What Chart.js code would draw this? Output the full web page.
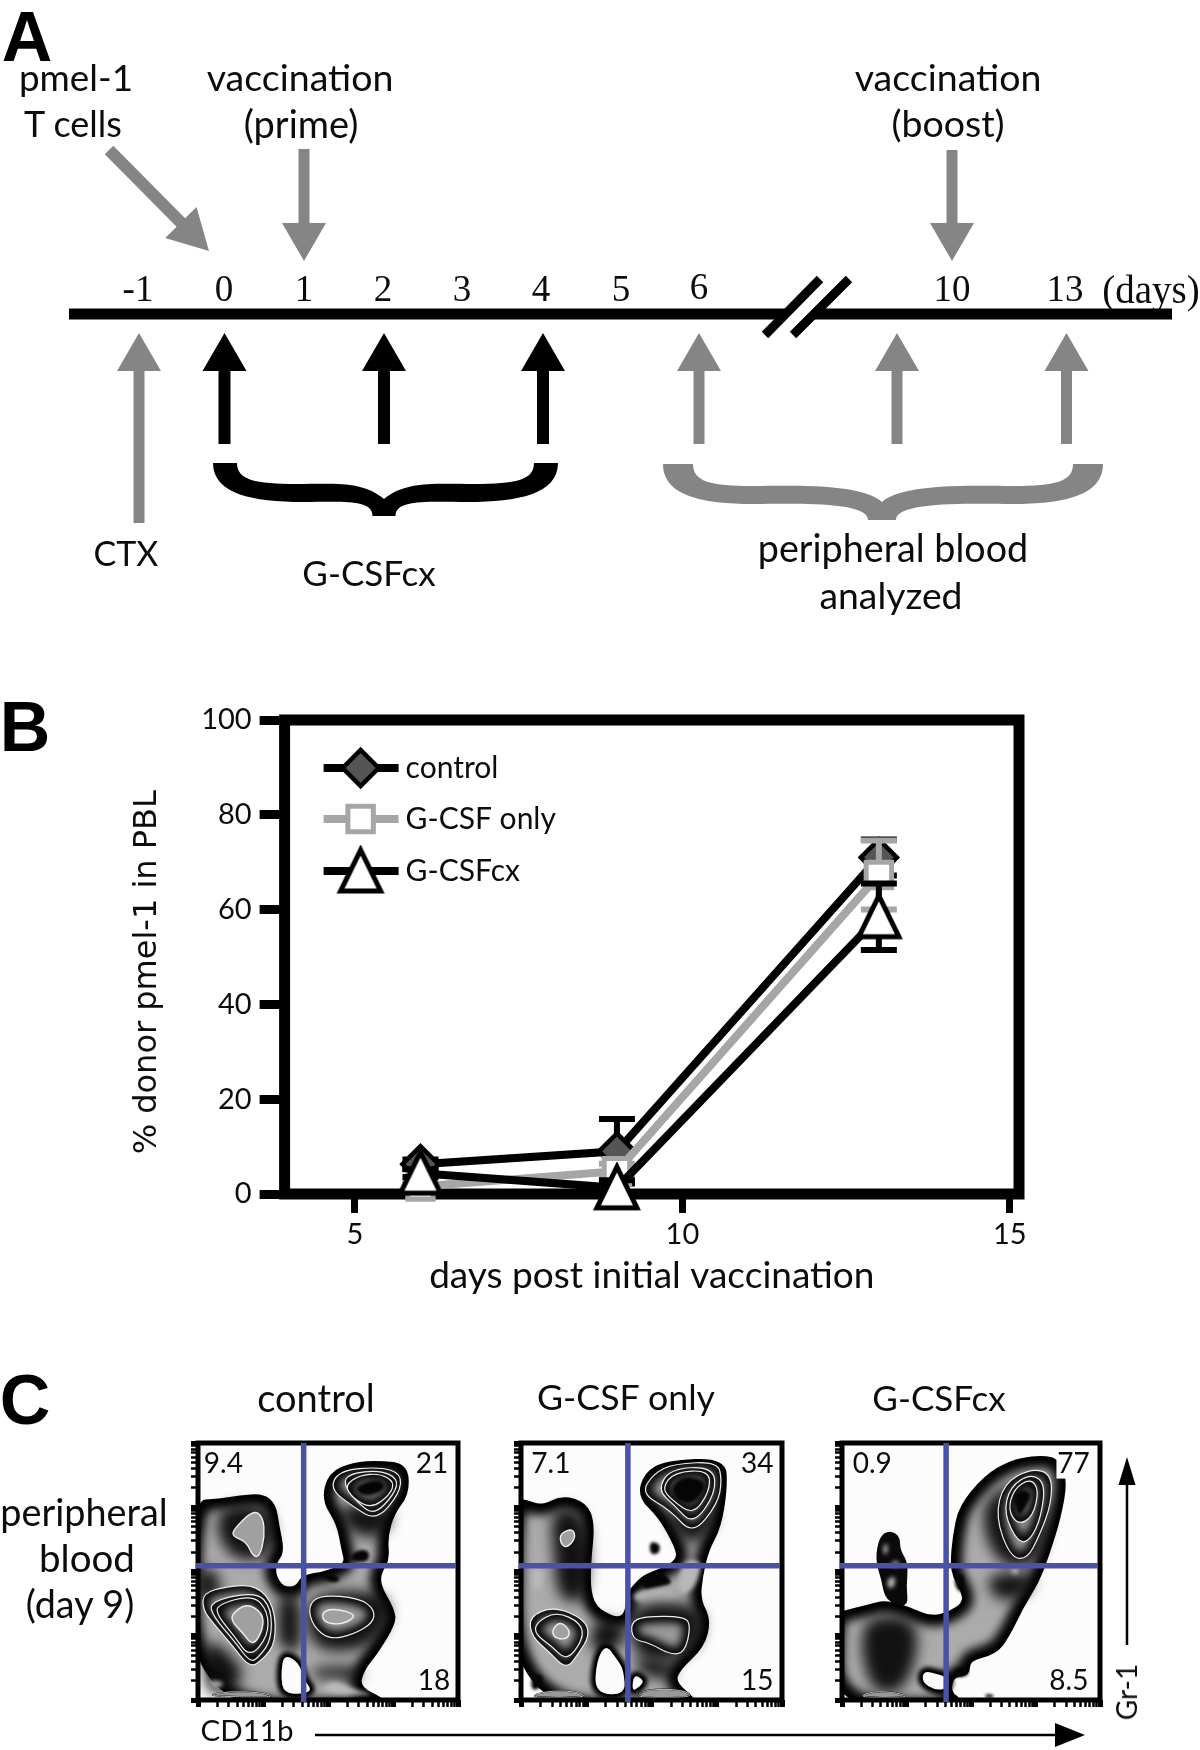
<!DOCTYPE html>
<html>
<head>
<meta charset="utf-8">
<title>pmel-1 G-CSFcx figure</title>
<script src="https://cdn.jsdelivr.net/npm/chart.js@4"></script>
<style>
  html, body { margin: 0; padding: 0; background: #fff; }
  #page { position: relative; width: 1200px; height: 1750px; overflow: hidden; }
  canvas { position: absolute; }
  .lbl { position: absolute; transform: translate(-50%, -50%); white-space: nowrap; color: #0c0c0c; font-family: Lato, sans-serif; font-size: 35px; line-height: 1; }
  .panel { font-family: "Liberation Sans", sans-serif; font-weight: bold; font-size: 70px; color: #000; }
  .rot { transform: translate(-50%, -50%) rotate(-90deg); }
</style>
</head>
<body>
<div id="page">
  <canvas id="figure" style="left:0;top:0" width="1200" height="1750"></canvas>
  <canvas id="pblChart" style="left:100px;top:690px" width="950" height="620"></canvas>
  <canvas id="flow1" style="left:168px;top:1428px" width="305" height="302"></canvas>
  <canvas id="flow2" style="left:491px;top:1428px" width="306" height="302"></canvas>
  <canvas id="flow3" style="left:812px;top:1428px" width="303" height="302"></canvas>
</div>
<script>
// Panel B values
const days = [6, 9, 13];
const controlValues = [6.3, 9, 71];
const gcsfValues = [1.6, 4.8, 67.3];
const gcsfcxValues = [4.4, 1.3, 58.5];
const controlErr = [1, 6.8, 3.8];
const gcsfErr = [1, 1.6, 7.3];
const gcsfcxErr = [0.8, 1.6, 7];
const yTicks = [0, 20, 40, 60, 80, 100];
const xTicks = [5, 10, 15];

// Panel A timeline, in page units
const dayLabels = ['-1', '0', '1', '2', '3', '4', '5', '6', '10', '13'];
const dayX = [138, 224, 304, 383, 462, 541, 621, 699, 952, 1065];
const blackArrowX = [224.5, 384, 543];
const grayArrowX = [699, 897, 1066.5];

// Panel C gate positions and quadrant numbers
const flowTitles = ['control', 'G-CSF only', 'G-CSFcx'];
const flowWidths = [780, 630, 622];
const gateX = [317, 258, 251];
const gateY = 404;
const flow1Numbers = ['9.4', '21', '18'];
const flow2Numbers = ['7.1', '34', '15'];
const flow3Numbers = ['0.9', '77', '8.5'];
const flow1NumberX = [76, 702, 708];
const flow2NumberX = [72, 570, 570];
const flow3NumberX = [73, 558, 547];
const minorOffsets = [58, 92, 116, 135, 150, 163, 174, 184];

// Panel C contours (CD11b channel, Gr-1 channel), control
const f1Mass = [[-20,597],[65,602],[125,612],[195,617],[230,587],[240,522],[255,447],[230,412],[230,372],[255,337],[295,337],[315,372],[375,382],[405,392],[445,412],[435,452],[420,532],[375,602],[395,682],[465,712],[545,717],[625,707],[630,622],[585,562],[565,492],[570,422],[545,382],[545,342],[585,272],[590,232],[535,142],[495,92],[480,37],[560,0],[560,-25],[-20,-25]];
const f1Hole = [[255,142],[305,117],[320,62],[345,32],[320,14],[255,18],[245,72]];
const f1SoftUL = [[65,582],[205,592],[230,502],[205,422],[105,422],[55,502]];
const f1PeakUL = [[105,512],[165,572],[195,552],[200,492],[185,432],[165,432],[145,477],[105,492]];
const f1SoftBL = [[20,192],[95,142],[145,72],[85,22],[20,22]];
const f1LightBL = [[25,62],[85,52],[55,32]];
const f1SoftLeft = [[0,400],[60,390],[70,300],[0,300]];
const f1RingLL1 = [[15,322],[85,342],[175,347],[230,282],[233,172],[195,122],[155,97],[105,162],[45,232],[15,272]];
const f1RingLL2 = [[35,297],[175,327],[220,277],[220,182],[185,132],[157,112],[110,177],[45,252]];
const f1RingLL3 = [[55,287],[165,317],[210,267],[210,192],[155,127],[110,192],[60,252]];
const f1PeakLL = [[100,257],[145,292],[195,262],[195,212],[165,162],[135,202],[105,232]];
const f1Bottom = [[15,12],[95,27],[195,22],[235,7]];
const f1Bridge = [[240,322],[305,322],[310,142],[265,152],[240,172]];
const f1SoftLR = [[320,322],[545,332],[585,262],[525,162],[405,142],[335,172]];
const f1RingLR = [[330,282],[365,317],[485,307],[530,272],[525,232],[465,197],[395,182],[345,222]];
const f1PeakLR = [[370,262],[405,277],[480,257],[435,227],[380,232]];
const f1BandLR = [[330,97],[495,102],[480,52],[405,72],[355,62]];
const f1LobeLR = [[355,22],[405,62],[465,32],[545,12]];
const f1Spot1 = [[450,422],[475,452],[515,452],[510,412]];
const f1Spot2 = [[365,372],[405,382],[430,362],[405,352]];
const f1SoftUR = [[405,592],[595,582],[555,492],[465,492]];
const f1RingUR1 = [[395,637],[425,692],[545,702],[610,682],[605,622],[535,540],[465,582]];
const f1RingUR2 = [[435,652],[455,682],[545,692],[600,667],[590,622],[530,557],[480,592]];
const f1RingUR3 = [[440,647],[485,677],[545,682],[590,657],[575,617],[520,577],[465,607]];
const f1CoreUR = [[465,642],[535,667],[565,647],[545,622],[495,612]];

// G-CSF only
const f2Mass = [[-20,605],[15,597],[50,582],[100,612],[155,592],[175,532],[165,412],[165,322],[185,267],[250,237],[260,322],[270,337],[295,372],[340,392],[380,422],[375,462],[335,552],[285,612],[300,682],[350,717],[490,725],[495,642],[480,522],[450,452],[435,372],[430,302],[455,242],[440,162],[380,92],[370,52],[420,0],[420,-25],[-20,-25]];
const f2Hole1 = [[205,172],[235,122],[250,92],[255,12],[175,17],[180,122]];
const f2Hole2 = [[270,82],[300,62],[290,37],[265,22]];
const f2Dot = [[310,477],[335,472],[335,442],[312,437]];
const f2Patch = [[295,372],[335,392],[370,352],[335,342],[290,332]];
const f2Light1 = [[275,332],[370,332],[380,292],[270,292]];
const f2Light2 = [[390,422],[440,422],[420,332],[375,312]];
const f2SoftUL = [[70,582],[155,572],[165,402],[150,292],[90,302],[80,422]];
const f2PeakUL = [[95,502],[125,517],[132,487],[110,457],[95,472]];
const f2LightUL = [[25,392],[55,392],[50,332],[28,332]];
const f2RingLL1 = [[20,252],[80,282],[155,242],[165,192],[140,142],[110,92],[70,142],[25,192]];
const f2RingLL2 = [[35,232],[85,267],[145,232],[150,182],[110,117],[75,162],[35,197]];
const f2PeakLL = [[75,212],[95,237],[120,207],[110,182],[80,187]];
const f2Bottom = [[15,7],[60,27],[130,27],[165,7]];
const f2SpotBL = [[25,77],[55,77],[50,37],[25,27]];
const f2SoftLR = [[260,292],[420,292],[445,232],[420,152],[350,112],[270,132]];
const f2RingLR = [[265,232],[295,252],[395,252],[410,222],[395,142],[360,137],[310,172],[270,182]];
const f2Bridge = [[175,252],[250,232],[250,162],[165,132]];
const f2LobeLR = [[270,7],[300,32],[390,32],[420,7]];
const f2BandLR = [[265,132],[380,112],[360,62],[295,72]];
const f2SoftUR = [[335,582],[480,592],[450,492],[400,462]];
const f2RingUR1 = [[290,622],[320,682],[370,712],[475,717],[485,662],[475,592],[415,497],[360,572]];
const f2RingUR2 = [[330,632],[360,697],[465,702],[470,622],[415,527],[370,587]];
const f2RingUR3 = [[340,637],[370,687],[455,692],[455,627],[415,557],[365,602]];
const f2CoreUR = [[360,642],[395,677],[445,662],[440,622],[410,587],[375,602]];

// G-CSFcx
const f3Mass = [[-20,255],[10,267],[60,282],[105,297],[160,277],[215,247],[260,262],[295,292],[290,332],[270,372],[265,412],[270,492],[285,582],[345,672],[405,717],[465,732],[520,727],[540,662],[525,552],[495,432],[470,352],[435,282],[400,192],[370,142],[305,122],[305,77],[265,72],[260,22],[285,0],[285,-25],[-20,-25]];
const f3Hole = [[195,92],[235,80],[262,66],[255,32],[225,26],[190,52]];
const f3Stalk = [[90,492],[115,512],[140,492],[140,452],[160,412],[155,342],[160,277],[105,297],[95,362],[80,422]];
const f3Spot1 = [[100,467],[110,472],[110,442],[100,437]];
const f3Spot2 = [[110,367],[130,372],[125,337],[110,337]];
const f3Spot3 = [[118,415],[140,420],[132,400],[120,402]];
const f3Patch = [[270,372],[295,382],[295,322],[275,332]];
const f3Knob = [[270,97],[305,97],[305,72],[270,67]];
const f3Bump = [[345,17],[365,17],[365,7],[345,7]];
const f3SoftLow = [[55,252],[175,252],[185,142],[145,22],[75,22],[45,142]];
const f3SoftArm1 = [[345,382],[475,382],[435,302],[365,302]];
const f3SoftArm2 = [[325,622],[505,672],[485,402],[365,402]];
const f3LightArm = [[400,397],[430,397],[420,372]];
const f3Bottom = [[35,7],[75,27],[135,22],[165,7]];
const f3RingUR1 = [[370,552],[390,652],[455,697],[505,682],[505,592],[475,492],[445,422],[405,432]];
const f3RingUR2 = [[390,562],[405,642],[455,682],[490,652],[480,552],[455,482],[425,472]];
const f3RingUR3 = [[400,572],[415,637],[455,667],[475,632],[460,552],[425,527]];
const f3CoreUR = [[410,612],[435,637],[460,622],[440,572],[425,552]];

const layers1 = [['mass',f1Mass],['soft',f1SoftUL],['peak',f1PeakUL],['soft',f1SoftBL],['light',f1LightBL],['soft',f1SoftLeft],['soft',f1Bridge],['ring',f1RingLL1],['ring',f1RingLL2],['ring',f1RingLL3],['peak',f1PeakLL],['open',f1Bottom],['soft',f1SoftLR],['ring',f1RingLR],['peak',f1PeakLR],['soft',f1BandLR],['light',f1LobeLR],['hole',f1Hole],['core',f1Spot1],['core',f1Spot2],['soft',f1SoftUR],['ring',f1RingUR1],['ring',f1RingUR2],['ring',f1RingUR3],['core',f1CoreUR]];
const layers2 = [['mass',f2Mass],['soft',f2SoftUL],['peak',f2PeakUL],['light',f2LightUL],['soft',f2Bridge],['ring',f2RingLL1],['ring',f2RingLL2],['peak',f2PeakLL],['open',f2Bottom],['core',f2SpotBL],['light',f2Light1],['light',f2Light2],['soft',f2SoftLR],['ring',f2RingLR],['soft',f2BandLR],['open',f2LobeLR],['hole',f2Hole1],['hole',f2Hole2],['core',f2Dot],['core',f2Patch],['soft',f2SoftUR],['ring',f2RingUR1],['ring',f2RingUR2],['ring',f2RingUR3],['core',f2CoreUR]];
const layers3 = [['mass',f3Mass],['soft',f3SoftLow],['soft',f3SoftArm1],['soft',f3SoftArm2],['light',f3LightArm],['open',f3Bottom],['hole',f3Hole],['stalk',f3Stalk],['light',f3Spot1],['light',f3Spot2],['light',f3Spot3],['core',f3Patch],['core',f3Knob],['core',f3Bump],['ring',f3RingUR1],['ring',f3RingUR2],['ring',f3RingUR3],['core',f3CoreUR]];

const GRAY = '#858585';
const BLUE = '#4a52a8';

// free text of the figure
const page = document.getElementById('page');
function addLabel(text, x, y, size, cls, family) {
    const el = document.createElement('div');
    el.className = 'lbl ' + (cls || '');
    el.textContent = text;
    el.style.left = x + 'px';
    el.style.top = y + 'px';
    if (size) el.style.fontSize = size + 'px';
    if (family) el.style.fontFamily = family;
    page.appendChild(el);
}
addLabel('A', 27, 37, 70, 'panel');
addLabel('B', 25, 727, 70, 'panel');
addLabel('C', 25, 1400, 70, 'panel');
addLabel('pmel-1', 76, 77, 36.8);
addLabel('T cells', 73, 123, 36);
addLabel('vaccination', 300, 77, 37.5);
addLabel('(prime)', 301, 123, 38);
addLabel('vaccination', 948, 77, 37.5);
addLabel('(boost)', 948, 123, 37.5);
addLabel('CTX', 126, 553, 34);
addLabel('G-CSFcx', 369, 572, 35);
addLabel('peripheral blood', 893, 548, 37.7);
addLabel('analyzed', 891, 595, 37.3);
addLabel('(days)', 1151, 289, 39, '', '"Liberation Serif", serif');
addLabel('peripheral', 84, 1512, 37.8);
addLabel('blood', 87, 1557, 38.5);
addLabel('(day 9)', 80, 1604, 37.7);
addLabel(flowTitles[0], 316, 1397, 38);
addLabel(flowTitles[1], 626, 1397, 35.7);
addLabel(flowTitles[2], 939, 1397, 35);
addLabel('CD11b', 247, 1730, 29.5);
addLabel('Gr-1', 1126, 1692, 28, 'rot');

// Panel A: timeline, arrows and braces, on a chart that spans the page
function arrow(chart, x0, y0, x1, y1, shaft, headW, headL, color) {
    const sx = chart.scales.x, sy = chart.scales.y, ctx = chart.ctx;
    const ax = sx.getPixelForValue(x0), ay = sy.getPixelForValue(y0);
    const bx = sx.getPixelForValue(x1), by = sy.getPixelForValue(y1);
    const len = Math.hypot(bx - ax, by - ay);
    const ux = (bx - ax) / len, uy = (by - ay) / len;
    const nx = -uy, ny = ux;
    const cx = bx - ux * headL, cy = by - uy * headL;
    ctx.fillStyle = color;
    ctx.beginPath();
    ctx.moveTo(ax + nx * shaft / 2, ay + ny * shaft / 2);
    ctx.lineTo(cx + nx * shaft / 2, cy + ny * shaft / 2);
    ctx.lineTo(cx + nx * headW / 2, cy + ny * headW / 2);
    ctx.lineTo(bx, by);
    ctx.lineTo(cx - nx * headW / 2, cy - ny * headW / 2);
    ctx.lineTo(cx - nx * shaft / 2, cy - ny * shaft / 2);
    ctx.lineTo(ax - nx * shaft / 2, ay - ny * shaft / 2);
    ctx.closePath();
    ctx.fill();
}

function brace(ctx, b) {
    const innerL = b.xl + b.endW, innerR = b.xr - b.endW;
    ctx.fillStyle = b.color;
    ctx.beginPath();
    ctx.moveTo(b.xl, b.top);
    ctx.lineTo(innerL, b.top);
    ctx.bezierCurveTo(innerL, b.bandTop - 4, innerL + 18, b.bandTop, innerL + 60, b.bandTop);
    ctx.bezierCurveTo(innerL + 100, b.bandTop, b.mx - 22, b.bandTop - 3, b.mx, b.cusp);
    ctx.bezierCurveTo(b.mx + 22, b.bandTop - 3, innerR - 100, b.bandTop, innerR - 60, b.bandTop);
    ctx.bezierCurveTo(innerR - 18, b.bandTop, innerR, b.bandTop - 4, innerR, b.top);
    ctx.lineTo(b.xr, b.top);
    ctx.bezierCurveTo(b.xr, b.bandBot - 8, b.xr - 40, b.bandBot, b.xr - 90, b.bandBot);
    ctx.bezierCurveTo(b.xr - 130, b.bandBot, b.mx + b.midW / 2, b.bandBot - 3, b.mx + b.midW / 2, b.midBot);
    ctx.lineTo(b.mx - b.midW / 2, b.midBot);
    ctx.bezierCurveTo(b.mx - b.midW / 2, b.bandBot - 3, b.xl + 130, b.bandBot, b.xl + 90, b.bandBot);
    ctx.bezierCurveTo(b.xl + 40, b.bandBot, b.xl, b.bandBot - 8, b.xl, b.top);
    ctx.closePath();
    ctx.fill();
}

const timelinePlugin = {
    id: 'timeline',
    afterDatasetsDraw(chart) {
        const ctx = chart.ctx;
        // double slash over the axis break
        ctx.save();
        ctx.lineCap = 'butt';
        ctx.strokeStyle = '#fff';
        ctx.lineWidth = 20;
        ctx.beginPath(); ctx.moveTo(830, 284); ctx.lineTo(783, 330); ctx.stroke();
        ctx.strokeStyle = '#000';
        ctx.lineWidth = 9;
        ctx.beginPath(); ctx.moveTo(820, 279); ctx.lineTo(765, 335); ctx.stroke();
        ctx.beginPath(); ctx.moveTo(849, 279); ctx.lineTo(793, 335); ctx.stroke();
        ctx.restore();

        arrow(chart, 109, 150, 209, 251, 12, 44, 40, GRAY);
        arrow(chart, 304, 149, 304, 261, 11, 44, 38, GRAY);
        arrow(chart, 952, 150, 952, 261, 11, 44, 38, GRAY);
        arrow(chart, 139, 523, 139, 333, 11, 44, 38, GRAY);
        blackArrowX.forEach(x => arrow(chart, x, 444, x, 333, 12, 44, 38, '#000'));
        grayArrowX.forEach(x => arrow(chart, x, 444, x, 333, 11, 44, 38, GRAY));

        brace(ctx, { color: '#000', xl: 213, xr: 558, mx: 384, endW: 24, top: 463, bandTop: 484, bandBot: 502, cusp: 499, midW: 23, midBot: 516 });
        brace(ctx, { color: GRAY, xl: 663, xr: 1103, mx: 882, endW: 30, top: 464, bandTop: 486, bandBot: 504, cusp: 502, midW: 28, midBot: 520 });

        // day numbers over the line
        ctx.fillStyle = '#0c0c0c';
        ctx.font = '37px "Liberation Serif", serif';
        ctx.textAlign = 'center';
        ctx.textBaseline = 'middle';
        dayLabels.forEach((t, i) => ctx.fillText(t, chart.scales.x.getPixelForValue(dayX[i]), chart.scales.y.getPixelForValue(t === '6' ? 289 : 291)));

        // long arrows along the flow plots
        arrow(chart, 315, 1735, 1085, 1735, 2.5, 24, 30, '#000');
        arrow(chart, 1127, 1645, 1127, 1457, 2.5, 17, 28, '#000');
    }
};

new Chart(document.getElementById('figure'), {
    type: 'line',
    data: {
        datasets: [{
            label: 'timeline',
            data: [{ x: 69, y: 314 }, { x: 1172, y: 314 }],
            borderColor: '#000',
            borderWidth: 11,
            pointRadius: 0
        }]
    },
    plugins: [timelinePlugin],
    options: {
        responsive: false,
        animation: false,
        layout: { padding: 0 },
        plugins: { legend: { display: false }, tooltip: { enabled: false } },
        scales: {
            x: { type: 'linear', min: 0, max: 1200, display: false },
            y: { type: 'linear', min: 0, max: 1750, reverse: true, display: false }
        }
    }
});

// Panel B: frame, error bars and the in-plot legend
const framePlugin = {
    id: 'frame',
    beforeDatasetsDraw(chart) {
        const a = chart.chartArea, ctx = chart.ctx;
        ctx.save();
        ctx.strokeStyle = '#000';
        ctx.lineWidth = 11;
        ctx.strokeRect(a.left, a.top, a.right - a.left, a.bottom - a.top);
        ctx.restore();
    }
};

const errorBarPlugin = {
    id: 'errorBars',
    beforeDatasetDraw(chart, args) {
        const ds = chart.data.datasets[args.index];
        const sx = chart.scales.x, sy = chart.scales.y, ctx = chart.ctx;
        ctx.save();
        ctx.strokeStyle = ds.borderColor === '#a6a6a6' ? '#a6a6a6' : '#000';
        ctx.lineWidth = 6;
        days.forEach((d, i) => {
            const x = sx.getPixelForValue(d);
            const hi = sy.getPixelForValue(ds.data[i].y + ds.errors[i]);
            const lo = sy.getPixelForValue(ds.data[i].y - ds.errors[i]);
            ctx.beginPath();
            ctx.moveTo(x - 18, hi); ctx.lineTo(x + 18, hi);
            ctx.moveTo(x, hi); ctx.lineTo(x, lo);
            ctx.moveTo(x - 18, lo); ctx.lineTo(x + 18, lo);
            ctx.stroke();
        });
        ctx.restore();
    }
};

const lineLegendPlugin = {
    id: 'lineLegend',
    afterDraw(chart) {
        const a = chart.chartArea, ctx = chart.ctx;
        const rows = [48, 99, 151];
        ctx.save();
        chart.data.datasets.forEach((ds, i) => {
            const y = a.top + rows[i];
            ctx.strokeStyle = ds.borderColor;
            ctx.lineWidth = 8;
            ctx.beginPath();
            ctx.moveTo(a.left + 39, y);
            ctx.lineTo(a.left + 114, y);
            ctx.stroke();
            ctx.fillStyle = ds.pointBackgroundColor;
            ctx.strokeStyle = ds.pointBorderColor;
            ctx.lineWidth = ds.pointBorderWidth;
            Chart.helpers.drawPoint(ctx, { pointStyle: ds.pointStyle, rotation: 0, radius: ds.pointRadius, borderWidth: ds.pointBorderWidth }, a.left + 76, y);
            ctx.fillStyle = '#0c0c0c';
            ctx.font = '30px Lato, sans-serif';
            ctx.textAlign = 'left';
            ctx.textBaseline = 'middle';
            ctx.fillText(ds.label, a.left + 121, y);
        });
        ctx.restore();
    }
};

// the figure's triangle is taller than an equilateral one
function trianglePoint() {
    const c = document.createElement('canvas');
    c.width = 52;
    c.height = 52;
    const g = c.getContext('2d');
    g.beginPath();
    g.moveTo(26, 5);
    g.lineTo(46, 46);
    g.lineTo(6, 46);
    g.closePath();
    g.fillStyle = '#fff';
    g.fill();
    g.strokeStyle = '#000';
    g.lineWidth = 5;
    g.stroke();
    return c;
}

function series(label, values, errors, line, style, radius, fill, border, bw, order) {
    return {
        label: label,
        data: days.map((d, i) => ({ x: d, y: values[i] })),
        errors: errors,
        borderColor: line,
        borderWidth: 8,
        pointStyle: style,
        pointRadius: radius,
        pointBackgroundColor: fill,
        pointBorderColor: border,
        pointBorderWidth: bw,
        clip: false,
        order: order
    };
}

new Chart(document.getElementById('pblChart'), {
    type: 'line',
    data: {
        datasets: [
            series('control', controlValues, controlErr, '#000', 'rectRot', 18, '#555', '#000', 4.5, 3),
            series('G-CSF only', gcsfValues, gcsfErr, '#a6a6a6', 'rect', 18, '#fff', '#a6a6a6', 5, 2),
            series('G-CSFcx', gcsfcxValues, gcsfcxErr, '#000', trianglePoint(), 23, '#fff', '#000', 5, 1)
        ]
    },
    plugins: [framePlugin, errorBarPlugin, lineLegendPlugin],
    options: {
        responsive: false,
        animation: false,
        layout: { padding: { top: 30, right: 31, left: 0, bottom: 8 } },
        plugins: { legend: { display: false }, tooltip: { enabled: false } },
        scales: {
            x: {
                type: 'linear',
                min: 3.925,
                max: 15.14,
                afterBuildTicks: axis => { axis.ticks = xTicks.map(v => ({ value: v })); },
                afterFit: axis => { axis.height = 108; },
                grid: { drawOnChartArea: false, drawTicks: true, tickLength: 19, tickWidth: 7, tickColor: '#000' },
                border: { display: false },
                ticks: { color: '#0c0c0c', font: { family: 'Lato', size: 29 }, padding: 4, maxRotation: 0, autoSkip: false },
                title: { display: true, text: 'days post initial vaccination', color: '#0c0c0c', font: { family: 'Lato', size: 37 }, padding: { top: 0 } }
            },
            y: {
                type: 'linear',
                min: 0,
                max: 100,
                afterBuildTicks: axis => { axis.ticks = yTicks.map(v => ({ value: v })); },
                afterFit: axis => { axis.width = 184.6; },
                grid: { drawOnChartArea: false, drawTicks: true, tickLength: 25, tickWidth: 9, tickColor: '#000' },
                border: { display: false },
                ticks: { color: '#0c0c0c', font: { family: 'Lato', size: 29 }, padding: 8, autoSkip: false },
                title: { display: true, text: '% donor pmel-1 in PBL\u00a0\u00a0\u00a0', color: '#0c0c0c', font: { family: '"DejaVu Sans"', size: 32 }, padding: { top: 28 } }
            }
        }
    }
});

// Panel C: the contour layers are line datasets, painted from their scale positions
function tracePoints(ctx, pts) {
    const n = pts.length;
    const mid = (a, b) => ({ x: (a.x + b.x) / 2, y: (a.y + b.y) / 2 });
    const start = mid(pts[n - 1], pts[0]);
    ctx.beginPath();
    ctx.moveTo(start.x, start.y);
    for (let i = 0; i < n; i++) {
        const m = mid(pts[i], pts[(i + 1) % n]);
        ctx.quadraticCurveTo(pts[i].x, pts[i].y, m.x, m.y);
    }
    ctx.closePath();
}

function paintLayer(ctx, kind, pts, a) {
    ctx.save();
    ctx.beginPath();
    ctx.rect(a.left, a.top, a.right - a.left, a.bottom - a.top);
    ctx.clip();
    ctx.lineJoin = 'round';
    tracePoints(ctx, pts);
    if (kind === 'mass' || kind === 'ring') {
        ctx.fillStyle = kind === 'mass' ? '#ababab' : '#9a9a9a';
        ctx.fill();
        ctx.save();
        ctx.clip();
        ctx.filter = kind === 'mass' ? 'blur(5px)' : 'blur(4px)';
        ctx.strokeStyle = '#000';
        ctx.lineWidth = kind === 'mass' ? 20 : 13;
        ctx.stroke();
        ctx.restore();
        ctx.filter = 'none';
        tracePoints(ctx, pts);
        ctx.strokeStyle = kind === 'mass' ? '#000' : '#eee';
        ctx.lineWidth = kind === 'mass' ? 3 : 1.2;
        ctx.stroke();
    } else if (kind === 'soft') {
        ctx.filter = 'blur(7px)';
        ctx.fillStyle = 'rgba(10,10,10,0.95)';
        ctx.fill();
    } else if (kind === 'peak') {
        ctx.fillStyle = '#a0a0a0';
        ctx.fill();
        ctx.strokeStyle = '#eee';
        ctx.lineWidth = 1.4;
        ctx.stroke();
    } else if (kind === 'light') {
        ctx.filter = 'blur(2px)';
        ctx.fillStyle = '#b8b8b8';
        ctx.fill();
    } else if (kind === 'core') {
        ctx.filter = 'blur(1.5px)';
        ctx.fillStyle = '#050505';
        ctx.fill();
    } else if (kind === 'stalk') {
        ctx.fillStyle = '#0a0a0a';
        ctx.fill();
    } else if (kind === 'hole') {
        ctx.save();
        ctx.filter = 'blur(2px)';
        ctx.strokeStyle = '#000';
        ctx.lineWidth = 8;
        ctx.stroke();
        ctx.restore();
        tracePoints(ctx, pts);
        ctx.fillStyle = '#fbfbfb';
        ctx.fill();
        ctx.strokeStyle = '#000';
        ctx.lineWidth = 2;
        ctx.stroke();
    } else if (kind === 'open') {
        ctx.fillStyle = '#999';
        ctx.fill();
        ctx.strokeStyle = '#000';
        ctx.lineWidth = 1.5;
        ctx.stroke();
        ctx.strokeStyle = '#eee';
        ctx.lineWidth = 0.8;
        ctx.stroke();
    }
    ctx.restore();
}

const contourPlugin = {
    id: 'contours',
    beforeDraw(chart) {
        const a = chart.chartArea;
        chart.ctx.fillStyle = '#fcfcfc';
        chart.ctx.fillRect(a.left, a.top, a.right - a.left, a.bottom - a.top);
    },
    beforeDatasetDraw(chart, args) {
        const ds = chart.data.datasets[args.index];
        if (!ds.kind) return;
        paintLayer(chart.ctx, ds.kind, args.meta.data, chart.chartArea);
        return false;
    },
    afterDraw(chart) {
        const a = chart.chartArea, ctx = chart.ctx;
        ctx.save();
        ctx.strokeStyle = '#000';
        ctx.lineWidth = 5;
        ctx.strokeRect(a.left, a.top, a.right - a.left, a.bottom - a.top);
        const gate = chart.options.gate;
        ctx.strokeStyle = BLUE;
        ctx.lineWidth = 5.5;
        const gx = chart.scales.x.getPixelForValue(gate);
        const gy = chart.scales.y.getPixelForValue(gateY);
        ctx.beginPath();
        ctx.moveTo(gx, a.top); ctx.lineTo(gx, a.bottom + 2);
        ctx.moveTo(a.left - 2, gy); ctx.lineTo(a.right - 2, gy);
        ctx.stroke();
        ctx.font = '28px Lato, sans-serif';
        ctx.textAlign = 'center';
        ctx.textBaseline = 'middle';
        const numY = [712, 712, 57];
        chart.options.numbers.forEach((t, i) => {
            const x = chart.scales.x.getPixelForValue(chart.options.numberX[i]);
            const y = chart.scales.y.getPixelForValue(numY[i]);
            if (t === '77') {
                ctx.fillStyle = '#fff';
                ctx.fillRect(x - 17, y - 15, 34, 30);
            }
            ctx.fillStyle = '#0c0c0c';
            ctx.fillText(t, x, y);
        });
        ctx.restore();
    }
};

function flowTicks(max) {
    const step = max / 4;
    const out = [];
    for (let k = 0; k < 4; k++) {
        out.push({ value: k * step, major: true });
        minorOffsets.forEach(o => out.push({ value: k * step + o * step / 193, major: false }));
    }
    out.push({ value: max, major: true });
    return out;
}

function flowChart(id, layers, xMax, gate, numbers, numberX) {
    const scaleBase = {
        type: 'linear',
        min: 0,
        border: { display: false },
        grid: {
            drawOnChartArea: false,
            drawTicks: true,
            tickLength: 7,
            tickColor: '#000',
            tickWidth: ctx => (ctx.tick && ctx.tick.major) ? 5 : 2.5
        },
        ticks: { display: false, autoSkip: false }
    };
    new Chart(document.getElementById(id), {
        type: 'line',
        data: {
            datasets: layers.map((l, i) => ({
                kind: l[0],
                data: l[1].map(p => ({ x: p[0], y: p[1] })),
                pointRadius: 0,
                borderWidth: 0,
                order: layers.length - i
            }))
        },
        plugins: [contourPlugin],
        options: {
            responsive: false,
            animation: false,
            gate: gate,
            numbers: numbers,
            numberX: numberX,
            layout: { padding: { left: 30, top: 15, right: 15, bottom: 30 } },
            plugins: { legend: { display: false }, tooltip: { enabled: false } },
            scales: {
                x: Object.assign({}, scaleBase, {
                    max: xMax,
                    afterBuildTicks: axis => { axis.ticks = flowTicks(xMax); },
                    afterFit: axis => { axis.height = 0; }
                }),
                y: Object.assign({}, scaleBase, {
                    max: 774,
                    afterBuildTicks: axis => { axis.ticks = flowTicks(774); },
                    afterFit: axis => { axis.width = 0; }
                })
            }
        }
    });
}

flowChart('flow1', layers1, flowWidths[0], gateX[0], flow1Numbers, flow1NumberX);
flowChart('flow2', layers2, flowWidths[1], gateX[1], flow2Numbers, flow2NumberX);
flowChart('flow3', layers3, flowWidths[2], gateX[2], flow3Numbers, flow3NumberX);
</script>
</body>
</html>
